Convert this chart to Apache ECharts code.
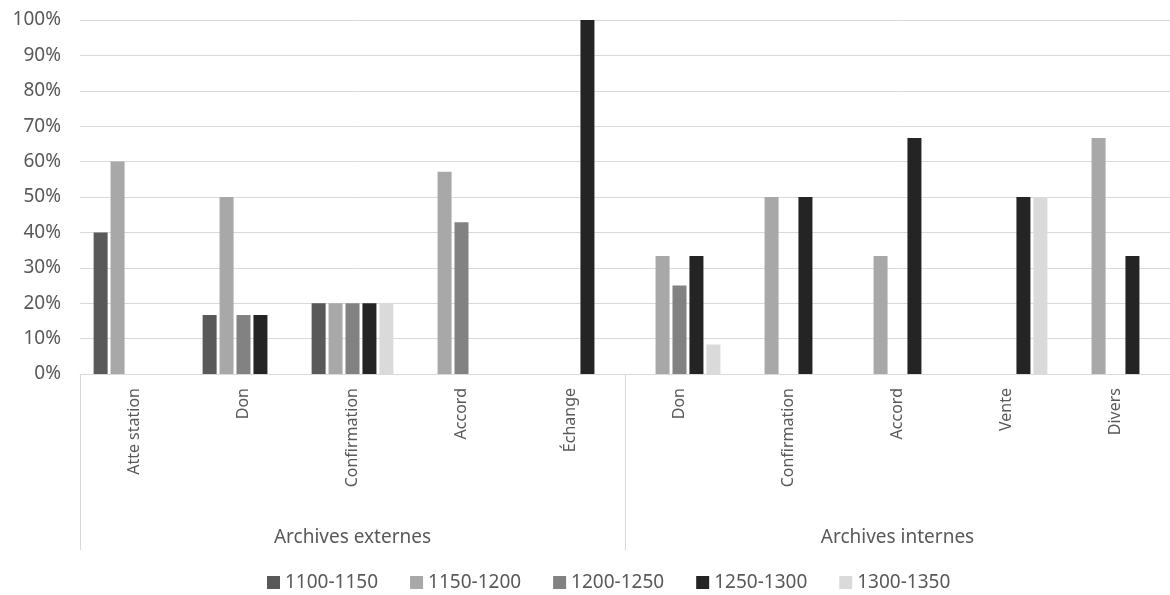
<!DOCTYPE html>
<html>
<head>
<meta charset="utf-8">
<script src="https://cdn.jsdelivr.net/npm/echarts@6/dist/echarts.min.js"></script>
<style>
html,body{margin:0;padding:0;background:#fff;}
#chart{width:1170px;height:595px;}
</style>
</head>
<body>
<div id="chart"></div>
<script>
const categories = ['Atte station','Don','Confirmation','Accord','Échange','Don','Confirmation','Accord','Vente','Divers'];
const groups = ['Archives externes','Archives internes'];
const yTicks = [0,10,20,30,40,50,60,70,80,90,100];
const seriesNames = ['1100-1150','1150-1200','1200-1250','1250-1300','1300-1350'];
const s1100 = [40, 16.67, 20, 0, 0, 0, 0, 0, 0, 0];
const s1150 = [60, 50, 20, 57.14, 0, 33.33, 50, 33.33, 0, 66.67];
const s1200 = [0, 16.67, 20, 42.86, 0, 25, 0, 0, 0, 0];
const s1250 = [0, 16.67, 20, 0, 100, 33.33, 50, 66.67, 50, 33.33];
const s1300 = [0, 0, 20, 0, 0, 8.33, 0, 0, 50, 0];
const seriesData = [s1100, s1150, s1200, s1250, s1300];
const colors = ['#595959','#a8a8a8','#828282','#242424','#dadada'];

const FONT = 'Noto Sans';
const TXT = '#595959';
const chart = echarts.init(document.getElementById('chart'), null, {renderer:'canvas'});
chart.setOption({
  animation:false,
  textStyle:{fontFamily:FONT},
  grid:{left:80, top:20, width:1096, height:354, containLabel:false},
  legend:{
    top:568, left:262, icon:'rect', itemWidth:13, itemHeight:13, itemGap:32,
    textStyle:{color:TXT, fontSize:19, fontFamily:FONT},
    data:seriesNames
  },
  xAxis:[
    {
      type:'category', data:categories, position:'bottom',
      axisLine:{show:true, lineStyle:{color:'#d9d9d9', width:1}},
      axisTick:{show:false},
      axisLabel:{rotate:90, margin:14, color:TXT, fontSize:16, fontFamily:FONT, interval:0}
    },
    {
      type:'category', data:groups, position:'bottom', gridIndex:0,
      axisLine:{show:false},
      axisTick:{show:true, length:176, lineStyle:{color:'#d9d9d9', width:1}},
      axisLabel:{margin:154, color:TXT, fontSize:19, fontFamily:FONT}
    }
  ],
  yAxis:{
    type:'value', min:0, max:100, interval:10,
    axisLine:{show:false}, axisTick:{show:false},
    axisLabel:{formatter:v=>v+'%', color:TXT, fontSize:19, fontFamily:FONT, margin:19},
    splitLine:{lineStyle:{color:'#d9d9d9', width:1}}
  },
  series: seriesNames.map((n,i)=>({
    name:n, type:'bar', xAxisIndex:0, data:seriesData[i],
    barWidth:14, barGap:'21%',
    itemStyle:{color:colors[i]}
  }))
});
</script>
</body>
</html>
